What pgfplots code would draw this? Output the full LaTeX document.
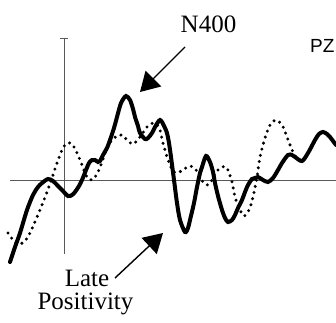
\documentclass[border=0pt]{standalone}
\usepackage{pgfplots}
\pgfplotsset{compat=1.18}
\usepackage{fontspec}
\setmainfont{Liberation Serif}
\newfontfamily\sansf{Liberation Sans}
\usetikzlibrary{arrows.meta}
\begin{document}
\begin{tikzpicture}
\begin{axis}[
  width=336pt, height=322pt, scale only axis,
  xmin=0, xmax=336, ymin=-142, ymax=180,
  hide axis, clip=true,
]
% baseline and vertical axis (pixel-like coordinates, y = 180 - py)
\addplot[draw=black!65, line width=0.9pt] coordinates {(10,0) (336,0)};
\addplot[draw=black!65, line width=0.9pt] coordinates {(64,142) (64,-74)};
\addplot[draw=black!65, line width=0.9pt] coordinates {(60,142) (68,142)};
% dotted condition
\addplot[black, smooth, line width=3.3pt, line cap=round, dash pattern=on 0pt off 6.3pt] table[y expr=180-\thisrowno{1}] {
x py
8 233
10 236
15 242
20 244
25 241
30 233
37 217
42 205
47 192
52 178
57 163
62 150
65 145
68 143
72 144
77 153
82 165
87 177
92 180
97 174
102 162
107 148
112 140
117 136
122 135
127 140
133 144
140 137
147 127
153 123
159 127
163 143
167 157
170 165
173 171
177 173
183 170
190 166
197 171
203 182
208 185
212 180
215 173
222 167
227 168
232 182
235 197
240 210
244 216
249 210
253 197
257 177
260 157
265 138
270 125
276 120
282 125
287 137
292 150
296 157
};
% solid condition
\addplot[black, smooth, line width=4pt, line cap=round] table[y expr=180-\thisrowno{1}] {
x py
10 262
15 247
20 233
27 210
33 195
38 187
42 183
48 179
53 181
58 186
62 190
68 196
72 195
75 192
79 186
82 180
86 170
89 163
92 160
95 160
98 162
100 161
103 155
107 148
110 140
114 128
117 117
120 106
122 101
126 96
130 100
133 109
135 117
138 126
140 133
145 139
148 138
152 133
155 127
158 122
160 120
162 122
165 128
167 133
169 143
171 157
174 180
177 203
180 220
185 232
188 228
190 220
194 203
197 187
200 173
202 167
206 156
210 162
213 172
215 183
218 196
222 210
225 218
228 222
232 220
235 215
238 208
242 200
245 192
248 185
252 179
255 178
258 177
263 180
268 182
273 178
278 170
282 163
288 155
292 155
295 157
302 161
308 153
315 140
319 134
323 132
327 134
330 137
336 145
};
% annotations
\draw[line width=1.4pt, -{Triangle[length=19pt,width=22pt]}] (axis cs:185,133) -- (axis cs:140,88);
\draw[line width=1.4pt, -{Triangle[length=19pt,width=22pt]}] (axis cs:115,-98) -- (axis cs:163,-53);
\node[anchor=base, inner sep=0pt] at (axis cs:208.5,148) {\fontsize{25}{25}\selectfont N400};
\node[anchor=base, inner sep=0pt, text depth=0pt] at (axis cs:87,-106) {\fontsize{25}{25}\selectfont Late};
\node[anchor=base, inner sep=0pt, text height=16.5pt] at (axis cs:85.5,-129) {\fontsize{25}{25}\selectfont Positivity};
\node[anchor=base west, inner sep=0pt] at (axis cs:310,128) {\sansf\fontsize{19}{19}\selectfont PZ};
\end{axis}
\pgfresetboundingbox
\path[use as bounding box] (current axis.south west) rectangle (current axis.north east);
\end{tikzpicture}
\end{document}
